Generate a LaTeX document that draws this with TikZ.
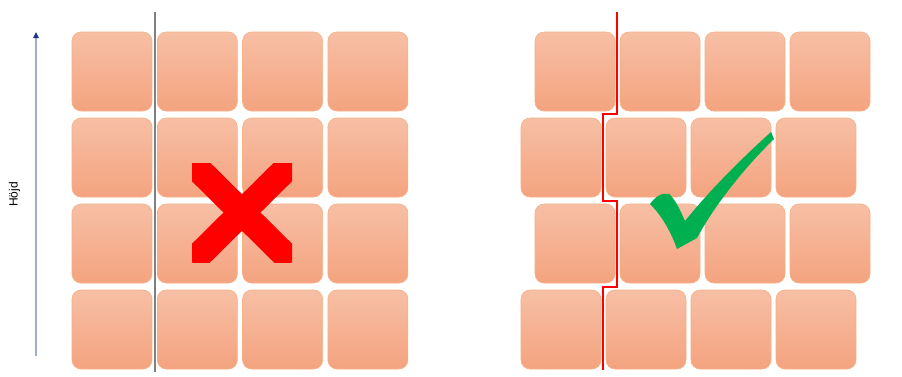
\documentclass[tikz,border=0pt]{standalone}
\usepackage{fontspec}
\setsansfont{Liberation Sans}
\usepackage{xcolor}
\usetikzlibrary{arrows.meta}
\definecolor{blocktop}{RGB}{247,191,165}
\definecolor{blockbot}{RGB}{244,163,127}
\definecolor{blockrim}{RGB}{244,177,131}
\definecolor{axisline}{RGB}{160,172,204}
\definecolor{axistip}{RGB}{31,56,130}
\definecolor{okgreen}{RGB}{0,176,80}

\begin{document}
\begin{tikzpicture}[x=1pt, y=-1pt,
    block/.style={rectangle, rounded corners=9pt, draw=blockrim, line width=0.6pt,
      top color=blocktop, bottom color=blockbot, minimum width=80pt,
      minimum height=79pt, inner sep=0pt},
    joint/.style={line width=1.8pt, line join=miter}]
  \useasboundingbox (0,0) rectangle (902,376);

  % parameters
  \def\pitchx{85.3} \def\pitchy{86}

  % left wall: joints straight on top of each other
  \foreach \r in {0,...,3}{
    \foreach \c in {0,...,3}{
      \node[block] (L-\r-\c) at (112+\c*\pitchx, 71.5+\r*\pitchy) {};
    }
  }

  % right wall: every other row shifted
  \foreach \r/\xs in {0/575, 1/561, 2/575, 3/561}{
    \foreach \c in {0,...,3}{
      \node[block] (R-\r-\c) at (\xs+\c*85, 71.5+\r*\pitchy) {};
    }
  }

  % straight joint (left)
  \coordinate (gtop) at (155,12);
  \coordinate (gbot) at (155,372);
  \draw[joint, draw=black!50] (gtop) -- (gbot);

  % stepped joint (right)
  \coordinate (s0) at (617,12);
  \coordinate (s1) at (617,114);
  \coordinate (s2) at (603,114);
  \coordinate (s3) at (603,201);
  \coordinate (s4) at (617,201);
  \coordinate (s5) at (617,287);
  \coordinate (s6) at (603,287);
  \coordinate (s7) at (603,370);
  \draw[joint, draw=red] (s0) -- (s1) -- (s2) -- (s3) -- (s4) -- (s5) -- (s6) -- (s7);

  % height axis
  \coordinate (abot) at (36,356);
  \coordinate (atop) at (36,32);
  \draw[axisline, line width=1.2pt,
    -{Triangle[color=axistip, length=6pt, width=5.5pt]}] (abot) -- (atop);
  \node[rotate=90, font=\sffamily\fontsize{12}{14}\selectfont] (hojd) at (14.5,194.5) {Höjd};

  % red cross
  \begin{scope}
    \clip (192,163) rectangle (292,262);
    \draw[red, line width=26pt] (192,163) -- (292,262);
    \draw[red, line width=26pt] (292,163) -- (192,262);
  \end{scope}

  % green tick
  \fill[okgreen] (650,204) .. controls (655,197) and (662,192) .. (669,194)
    .. controls (676,200) and (681,212) .. (685,221)
    .. controls (710,190) and (740,160) .. (771,132)
    -- (774,139)
    .. controls (740,172) and (712,210) .. (697,238)
    -- (677,249)
    .. controls (671,232) and (662,216) .. (650,204) -- cycle;
\end{tikzpicture}
\end{document}
